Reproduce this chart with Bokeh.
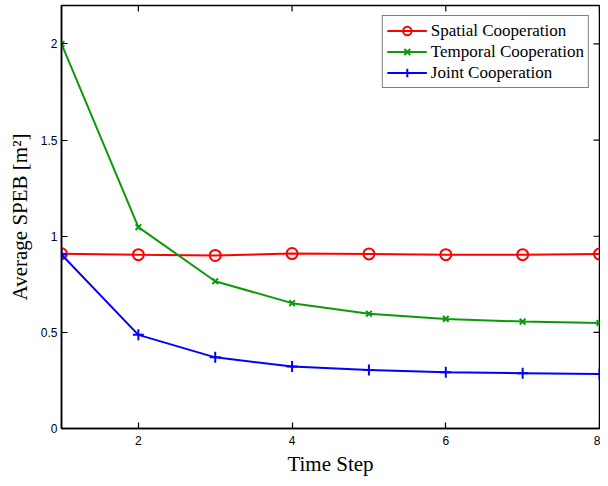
import math
from bokeh.plotting import figure
from bokeh.models import FixedTicker, NumeralTickFormatter, Range1d, Legend, LegendItem
from bokeh.embed import file_html
from bokeh.resources import INLINE

time_step = [1, 2, 3, 4, 5, 6, 7, 8]
spatial = [0.909, 0.904, 0.900, 0.910, 0.908, 0.904, 0.904, 0.907]
temporal = [2.0, 1.047, 0.766, 0.652, 0.597, 0.570, 0.556, 0.549]
joint = [0.905, 0.487, 0.370, 0.323, 0.304, 0.293, 0.288, 0.283]
x_ticks = [2, 4, 6, 8]
y_ticks = [0, 0.5, 1, 1.5, 2]
x_lo, x_hi = 1, 8
y_lo, y_hi = 0, 2.2

RED = "#ff0000"
GREEN = "#0a9a0a"
BLUE = "#0000ff"

p = figure(width=600, height=478, output_backend="svg", toolbar_location=None,
           x_range=Range1d(x_lo, x_hi), y_range=Range1d(y_lo, y_hi),
           min_border_left=61, min_border_right=1, min_border_top=5, min_border_bottom=0)
p.grid.visible = False
p.outline_line_color = "black"
p.outline_line_width = 1.5
p.background_fill_color = "white"
p.border_fill_color = "white"

for ax in (p.xaxis[0], p.yaxis[0]):
    ax.major_tick_in = 6
    ax.major_tick_out = 0
    ax.minor_tick_in = 0
    ax.minor_tick_out = 0
    ax.axis_line_width = 1.5
    ax.major_tick_line_width = 1.2
    ax.major_label_text_font = "Liberation Sans"
    ax.major_label_text_font_size = "12px"
    ax.major_label_text_color = "black"
    ax.axis_label_text_font = "Liberation Serif"
    ax.axis_label_text_font_size = "21px"
    ax.axis_label_text_font_style = "normal"
    ax.axis_label_text_color = "black"

p.xaxis.ticker = FixedTicker(ticks=x_ticks)
p.yaxis.ticker = FixedTicker(ticks=y_ticks)
p.yaxis.formatter = NumeralTickFormatter(format="0.[0]")
p.xaxis.axis_label = "Time Step"
p.yaxis.axis_label = "Average SPEB [m²]"
p.xaxis.major_label_standoff = 7
p.xaxis.axis_label_standoff = 4
p.yaxis.major_label_standoff = 4
p.yaxis.axis_label_standoff = 6

# mirrored inward ticks on the top and right edges
p.ray(x=x_ticks, y=[y_hi] * len(x_ticks), length=6, length_units="screen",
      angle=-math.pi / 2, line_color="black", line_width=1.2)
p.ray(x=[x_hi] * len(y_ticks), y=y_ticks, length=6, length_units="screen",
      angle=math.pi, line_color="black", line_width=1.2)

l1 = p.line(time_step, spatial, line_color=RED, line_width=2)
m1 = p.scatter(time_step, spatial, marker="circle", size=11, line_color=RED, line_width=2, fill_color=None)
l2 = p.line(time_step, temporal, line_color=GREEN, line_width=2)
m2 = p.scatter(time_step, temporal, marker="x", size=8, line_color=GREEN, line_width=2)
l3 = p.line(time_step, joint, line_color=BLUE, line_width=2)
m3 = p.scatter(time_step, joint, marker="cross", size=11, line_color=BLUE, line_width=2)

legend = Legend(items=[
    LegendItem(label="Spatial Cooperation", renderers=[l1, m1]),
    LegendItem(label="Temporal Cooperation", renderers=[l2, m2]),
    LegendItem(label="Joint Cooperation", renderers=[l3, m3]),
], location="top_right")
legend.label_text_font = "Liberation Serif"
legend.label_text_font_size = "17px"
legend.label_text_color = "black"
legend.border_line_color = "black"
legend.border_line_width = 1.5
legend.margin = 10
legend.padding = 4
legend.spacing = 0
legend.label_height = 21
legend.glyph_height = 21
legend.glyph_width = 40
legend.label_standoff = 4
p.add_layout(legend)

open("out.html", "w").write(file_html(p, INLINE))
